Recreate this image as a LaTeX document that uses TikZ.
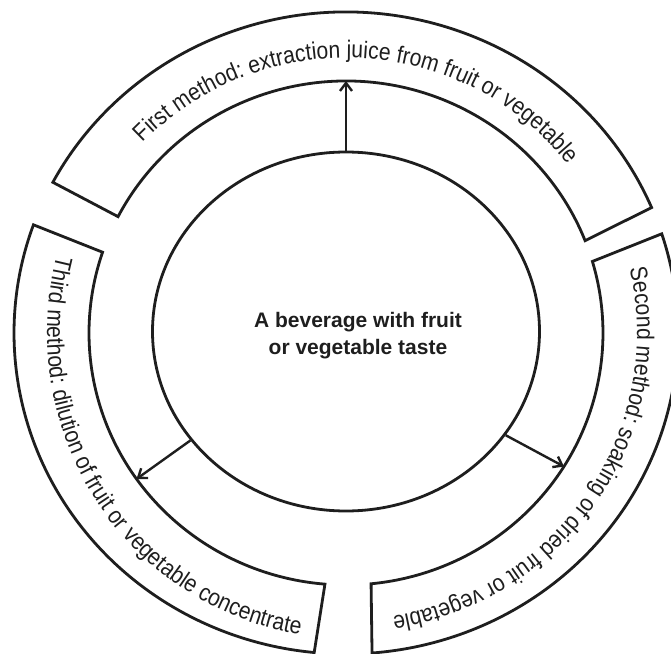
\documentclass[tikz,border=0pt]{standalone}
\usepackage{fontspec}
\setmainfont{Liberation Sans}
\newfontfamily\ringfont[FakeStretch=0.88]{Liberation Sans}
\usetikzlibrary{arrows.meta,shapes.geometric,decorations.text,calc}
\definecolor{linegray}{RGB}{30,30,30}

\begin{document}
\begin{tikzpicture}[x=1pt, y=1pt,
    seg/.style={draw=linegray, line width=2.8pt, line join=miter},
    arr/.style={-{Straight Barb[length=8pt, width=12pt]}, draw=linegray, line width=2.4pt},
    lbl/.style={decorate, decoration={text along path, text align=center, text color=linegray,
        text={|\ringfont\fontsize{24}{28}\selectfont|#1}}}
]
\useasboundingbox (-346,-320) rectangle (325,333);
\clip (-346,-320) rectangle (325,333);

% centre
\node[ellipse, draw=linegray, line width=2.8pt, minimum width=387pt, minimum height=359pt,
    inner sep=0pt] (bev) at (0,1.5) {};
\node[font=\bfseries\fontsize{21}{27}\selectfont, align=center, text=linegray] (bevtext)
    at ($(bev.center)+(12,-4)$) {A beverage with fruit\\or vegetable taste};

% ring segments
\draw[seg] (23:332 and 321) arc[start angle=23, end angle=152, x radius=332, y radius=321]
    -- (152.5:257 and 252) arc[start angle=152.5, end angle=21.5, x radius=257, y radius=252] -- cycle;
\draw[seg] (18:332 and 321) arc[start angle=18, end angle=-85.5, x radius=332, y radius=321]
    -- (-84.4:257 and 252) arc[start angle=-84.4, end angle=16.5, x radius=257, y radius=252] -- cycle;
\draw[seg] (160.3:332 and 321) arc[start angle=160.3, end angle=264.5, x radius=332, y radius=321]
    -- (265.3:257 and 252) arc[start angle=265.3, end angle=161.3, x radius=257, y radius=252] -- cycle;

% ring texts
\path[lbl={First method: extraction juice from fruit or vegetable}]
    (152.5:281 and 275) arc[start angle=152.5, end angle=21.5, x radius=281, y radius=275];
\path[lbl={Second method: soaking of dried fruit or vegetable}]
    (16.5:291 and 287) arc[start angle=16.5, end angle=-84.4, x radius=291, y radius=287];
\path[lbl={Third method: dilution of fruit or vegetable concentrate}]
    (161.3:299 and 305) arc[start angle=161.3, end angle=265.3, x radius=299, y radius=305];

% arrows
\coordinate (first) at (90:257 and 252);
\coordinate (second) at (328:257 and 252);
\coordinate (third) at (215.4:257 and 252);
\draw[arr] (bev.north) -- (first);
\draw[arr] (bev.327) -- (second);
\draw[arr] (bev.215) -- (third);
\end{tikzpicture}
\end{document}
